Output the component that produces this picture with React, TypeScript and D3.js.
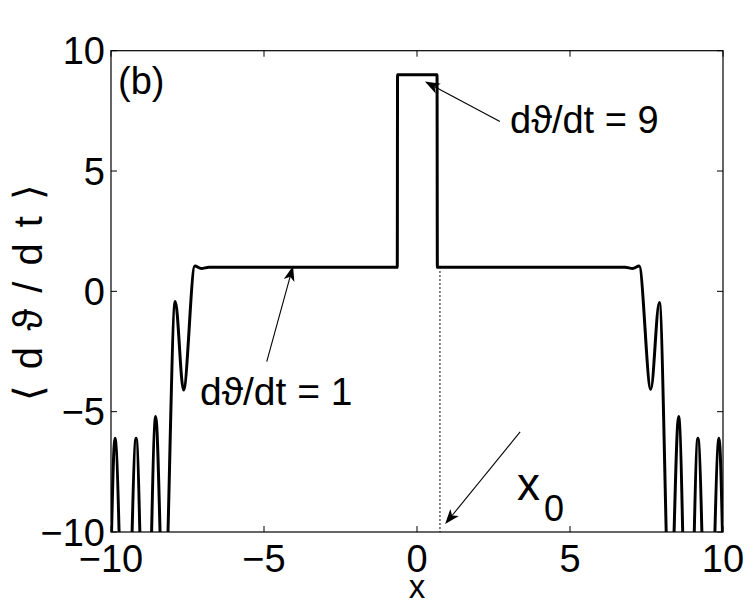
import React from 'react';
import * as d3 from 'd3';

// Curve: x positions and <dθ/dt> values
const curveX = [-10, -9.87, -9.52, -9.18, -8.86, -8.54, -8.27, -7.9, -7.63, -7.26, -7.05, -6.8, -0.645, -0.635, 0.655, 0.665, 6.8, 7.05, 7.26, 7.64, 7.92, 8.27, 8.55, 8.87, 9.18, 9.52, 9.87, 10];
const curveY = [-11, -6.1, -18, -6.1, -18, -5.2, -14, -0.42, -4.1, 1.05, 0.95, 1, 1, 9, 9, 1, 1, 0.95, 1.05, -4.07, -0.46, -14, -5.2, -18, -6.1, -18, -6.1, -11];

const xTicks = [-10, -5, 0, 5, 10];
const yTicks = [-10, -5, 0, 5, 10];
const xDomain = [-10, 10];
const yDomain = [-10, 10];

const x0Value = 0.75;
const x0Top = 1;

const FONT = "'Liberation Sans', Arial, Helvetica, sans-serif";

function arrowPath(tx: number, ty: number, fx: number, fy: number, len = 15, half = 5.5, back = 4) {
  const dx = tx - fx, dy = ty - fy;
  const L = Math.hypot(dx, dy);
  const ux = dx / L, uy = dy / L;
  const px = -uy, py = ux;
  const bx = tx - ux * len, by = ty - uy * len;
  const nx = tx - ux * (len - back), ny = ty - uy * (len - back);
  return {
    head: `M${tx},${ty}L${bx + px * half},${by + py * half}L${nx},${ny}L${bx - px * half},${by - py * half}Z`,
    nx, ny,
  };
}

export default function App() {
  const left = 111, right = 723, top = 50.7, bottom = 532;
  const x = d3.scaleLinear().domain(xDomain).range([left, right]);
  const y = d3.scaleLinear().domain(yDomain).range([bottom, top]);

  const pts: [number, number][] = curveX.map((v, i) => [v, curveY[i]]);
  const line = d3.line<[number, number]>()
    .x(d => x(d[0]))
    .y(d => y(d[1]))
    .curve(d3.curveMonotoneX);

  const arrows = [
    { tip: [0.26, 8.72], tail: [2.71, 7.06] },
    { tip: [-4.05, 1.05], tail: [-4.91, -2.92] },
    { tip: [0.92, -9.67], tail: [3.37, -5.84] },
  ];

  const tickLen = 6;
  const fmt = (t: number) => (t < 0 ? '\u2212' + Math.abs(t) : String(t));

  return (
    <svg width={747} height={606} style={{ position: 'absolute', left: 0, top: 0, background: '#fff' }}
      fontFamily={FONT}>
      <rect x={0} y={0} width={747} height={606} fill="#fff" />
      <defs>
        <clipPath id="plotClip">
          <rect x={left} y={top} width={right - left} height={bottom - top} />
        </clipPath>
      </defs>

      {/* dotted marker at x0 */}
      <line x1={x(x0Value)} x2={x(x0Value)} y1={y(x0Top) + 4} y2={bottom}
        stroke="#222" strokeWidth={1.5} strokeDasharray="1.4,2.6" />

      {/* curve */}
      <path d={line(pts) || ''} fill="none" stroke="#000" strokeWidth={3}
        strokeLinejoin="round" clipPath="url(#plotClip)" />

      {/* axes box */}
      <rect x={left} y={top} width={right - left} height={bottom - top} fill="none" stroke="#000" strokeWidth={1.2} />

      {/* ticks */}
      {xTicks.map(t => (
        <g key={'xt' + t}>
          <line x1={x(t)} x2={x(t)} y1={bottom} y2={bottom - tickLen} stroke="#000" strokeWidth={1} />
          <line x1={x(t)} x2={x(t)} y1={top} y2={top + tickLen} stroke="#000" strokeWidth={1} />
          <text x={x(t)} y={bottom + 40} textAnchor="middle" fontSize={38}>{fmt(t)}</text>
        </g>
      ))}
      {yTicks.map(t => (
        <g key={'yt' + t}>
          <line x1={left} x2={left + tickLen} y1={y(t)} y2={y(t)} stroke="#000" strokeWidth={1} />
          <line x1={right} x2={right - tickLen} y1={y(t)} y2={y(t)} stroke="#000" strokeWidth={1} />
          <text x={left - 6} y={y(t) + 13.5} textAnchor="end" fontSize={38}>{fmt(t)}</text>
        </g>
      ))}

      {/* axis labels */}
      <text x={(left + right) / 2} y={598} textAnchor="middle" fontSize={33}>x</text>
      <text transform={`translate(42,${(top + bottom) / 2}) rotate(-90)`} textAnchor="middle" fontSize={40}
        letterSpacing={2.5}>
        {'\u27E8 d \u03D1 / d t \u27E9'}
      </text>

      {/* panel label */}
      <text x={118} y={94} fontSize={38}>(b)</text>

      {/* annotations */}
      {arrows.map((a, i) => {
        const tx = x(a.tip[0]), ty = y(a.tip[1]);
        const fx = x(a.tail[0]), fy = y(a.tail[1]);
        const ah = arrowPath(tx, ty, fx, fy);
        return (
          <g key={'ar' + i}>
            <line x1={fx} y1={fy} x2={ah.nx} y2={ah.ny} stroke="#000" strokeWidth={1.1} />
            <path d={ah.head} fill="#000" />
          </g>
        );
      })}
      <text x={510} y={133} fontSize={38}>{'d\u03D1/dt = 9'}</text>
      <text x={200} y={405} fontSize={39}>{'d\u03D1/dt = 1'}</text>
      <text x={517} y={500} fontSize={46}>x<tspan fontSize={36} dx={4} dy={21}>0</tspan></text>
    </svg>
  );
}
